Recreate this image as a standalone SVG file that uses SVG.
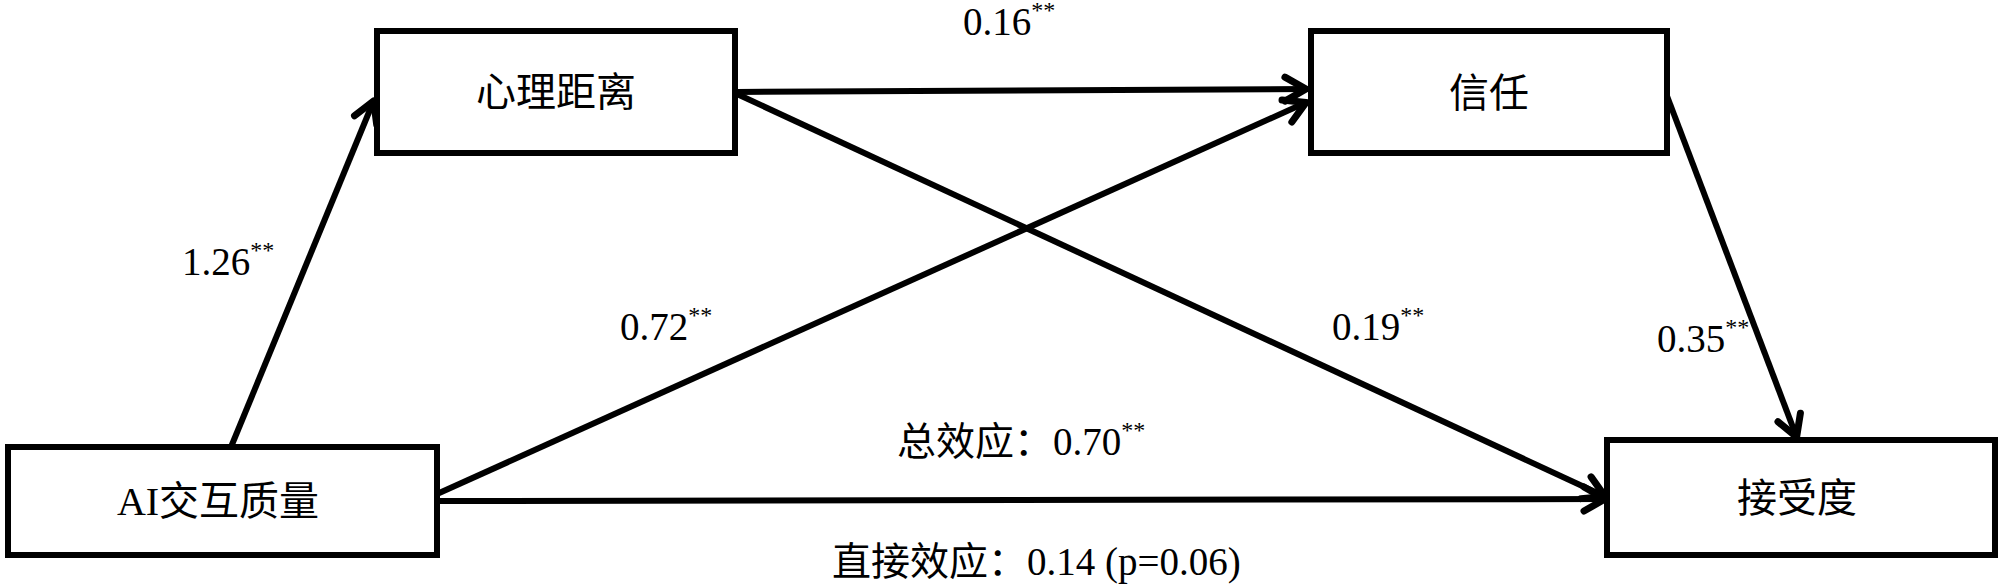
<svg xmlns="http://www.w3.org/2000/svg" width="1999" height="587" viewBox="0 0 1999 587">
  <style>
    .box { fill: #ffffff; stroke: #000000; stroke-width: 6; }
    .node-text { font-family: "Liberation Serif", "Noto Sans CJK SC", serif; font-size: 40px; fill: #000000; text-anchor: middle; }
    .lbl { font-family: "Liberation Serif", "Noto Sans CJK SC", serif; font-size: 39px; fill: #000000; }
    .sup { font-size: 24px; }
    .conn { stroke: #000000; stroke-width: 6; fill: none; marker-end: url(#arrow); }
  </style>
  <defs>
    <marker id="arrow" viewBox="-30 -18 34 36" markerWidth="34" markerHeight="36" refX="0" refY="0" orient="auto" markerUnits="userSpaceOnUse">
      <path d="M-22,-12 L-1,0 L-22,12" fill="none" stroke="#000000" stroke-width="7" stroke-linecap="round" stroke-linejoin="round"/>
    </marker>
  </defs>
  <rect x="0" y="0" width="1999" height="587" fill="#ffffff"/>

  <g id="connectors">
    <line class="conn" x1="231" y1="447" x2="374" y2="100"/>
    <line class="conn" x1="737" y1="92" x2="1307" y2="89"/>
    <line class="conn" x1="737" y1="94" x2="1606" y2="497"/>
    <line class="conn" x1="437" y1="494" x2="1307" y2="102"/>
    <line class="conn" x1="437" y1="501" x2="1606" y2="499"/>
    <line class="conn" x1="1667" y1="96" x2="1797" y2="438"/>
  </g>

  <g id="node-psych">
    <rect class="box" x="377" y="31" width="358" height="122"/>
    <text class="node-text" x="556" y="106">心理距离</text>
  </g>
  <g id="node-trust">
    <rect class="box" x="1311" y="31" width="356" height="122"/>
    <text class="node-text" x="1489" y="107">信任</text>
  </g>
  <g id="node-ai">
    <rect class="box" x="8" y="447" width="429" height="108"/>
    <text class="node-text" x="218" y="515">AI交互质量</text>
  </g>
  <g id="node-accept">
    <rect class="box" x="1607" y="440" width="388" height="115"/>
    <text class="node-text" x="1797" y="512">接受度</text>
  </g>

  <g id="labels">
    <text class="lbl" x="963" y="35">0.16<tspan class="sup" dy="-17">**</tspan></text>
    <text class="lbl" x="182" y="275">1.26<tspan class="sup" dy="-17">**</tspan></text>
    <text class="lbl" x="620" y="340">0.72<tspan class="sup" dy="-17">**</tspan></text>
    <text class="lbl" x="1332" y="340">0.19<tspan class="sup" dy="-17">**</tspan></text>
    <text class="lbl" x="1657" y="352">0.35<tspan class="sup" dy="-17">**</tspan></text>
    <text class="lbl" x="897" y="455">总效应：0.70<tspan class="sup" dy="-17">**</tspan></text>
    <text class="lbl" x="832" y="575">直接效应：0.14 (p=0.06)</text>
  </g>
</svg>
